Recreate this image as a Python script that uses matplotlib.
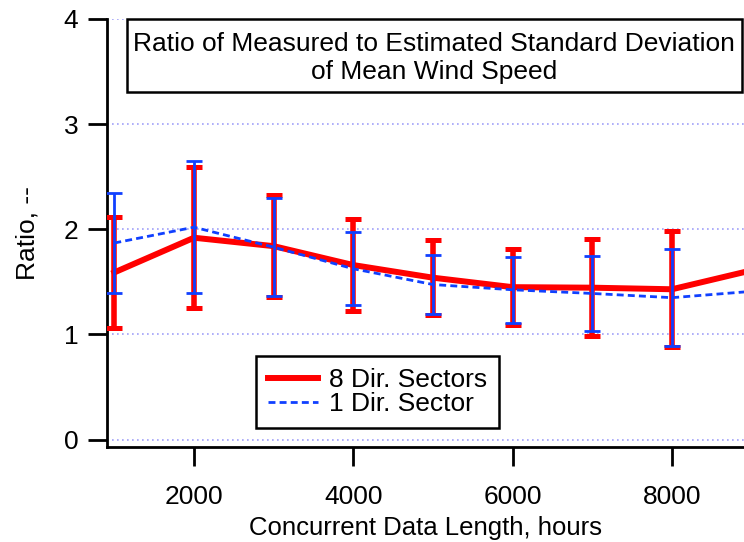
import numpy as np
import matplotlib
matplotlib.use("Agg")
import matplotlib.pyplot as plt
from matplotlib.lines import Line2D
from matplotlib.patches import Rectangle

plt.rcParams['font.family'] = ['Liberation Sans', 'DejaVu Sans']

# concurrent data length, hours
hours = [1000, 2000, 3000, 4000, 5000, 6000, 7000, 8000, 9000]

# 8 direction sectors: ratio and error half-width
ratio_8 = [1.59, 1.92, 1.84, 1.66, 1.54, 1.45, 1.445, 1.43, 1.61]
err_8 = [0.53, 0.67, 0.485, 0.435, 0.355, 0.36, 0.46, 0.55, 0.50]

# 1 direction sector
ratio_1 = [1.87, 2.02, 1.83, 1.625, 1.475, 1.425, 1.39, 1.35, 1.41]
err_1 = [0.48, 0.63, 0.465, 0.345, 0.285, 0.315, 0.36, 0.46, 0.40]

red = '#ff0000'
blue = '#1040ff'
fs = 19

fig = plt.figure(figsize=(7.44, 5.42), dpi=100)
ax = fig.add_axes([107/744, 1 - 447/542, 637/744, 428/542])

# red series (under)
ax.errorbar(hours, ratio_8, yerr=err_8, color=red, lw=4.3, elinewidth=4.0,
            capsize=5.8, capthick=3.6, zorder=3)
# blue series (over)
ax.errorbar(hours, ratio_1, yerr=err_1, color=blue, lw=2.0, ls=(0, (2.5, 1.5)),
            elinewidth=2.0, capsize=5.8, capthick=2.0, zorder=4)

ax.set_xlim(908, 8904)
ax.set_ylim(-0.07, 4.0)
ax.set_yticks([0, 1, 2, 3, 4])
ax.set_xticks([2000, 4000, 6000, 8000])
ax.grid(axis='y', color='#a0a0f8', ls=(0, (1, 2)), lw=1.2, zorder=1)

for s in ['top', 'right']:
    ax.spines[s].set_visible(False)
for s in ['left', 'bottom']:
    ax.spines[s].set_linewidth(2.0)
ax.tick_params(axis='both', direction='out', length=13.7, width=2.0,
               labelsize=fs, pad=7)
ax.tick_params(axis='x', pad=14)

ax.set_xlabel('Concurrent Data Length, hours', fontsize=18.5, labelpad=5)
ax.set_ylabel('Ratio, --', fontsize=fs, labelpad=17)

# title box inside the plot
ax.add_patch(Rectangle((0.0314, 0.830), 0.966, 0.170, transform=ax.transAxes,
                       facecolor='white', edgecolor='black', lw=1.8,
                       zorder=6, clip_on=False))
ax.text(0.514, 0.908, 'Ratio of Measured to Estimated Standard Deviation\nof Mean Wind Speed',
        transform=ax.transAxes, ha='center', va='center', fontsize=fs,
        linespacing=1.2, zorder=7)

handles = [Line2D([], [], color=red, lw=4.3),
           Line2D([], [], color=blue, lw=2.0, ls=(0, (2.5, 1.5)))]
leg = ax.legend(handles, ['8 Dir. Sectors', '1 Dir. Sector'], loc='lower left',
                bbox_to_anchor=(0.234, 0.044), fontsize=fs, frameon=True,
                fancybox=False, edgecolor='black', framealpha=1,
                handlelength=1.9, handletextpad=0.4, labelspacing=0.0,
                borderpad=0.45, borderaxespad=0)
leg.get_frame().set_linewidth(1.8)
leg.set_zorder(8)

fig.savefig('out.png', dpi=100)
